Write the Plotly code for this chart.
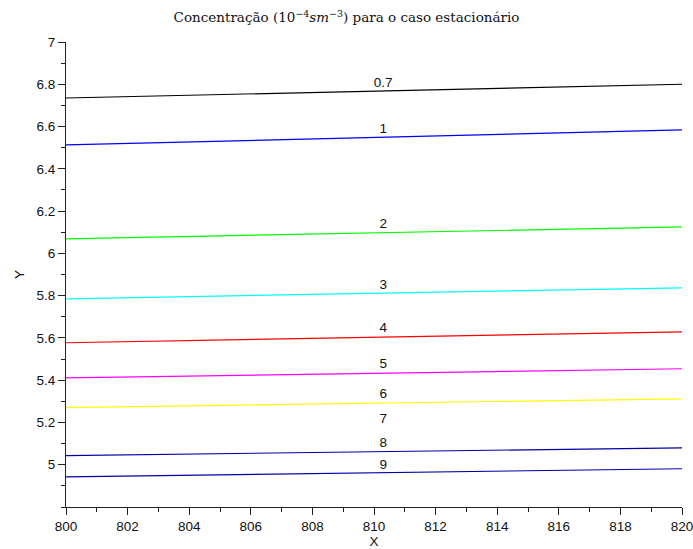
import plotly.graph_objects as go

x_ends = [800, 820]
levels = ["0.7", "1", "2", "3", "4", "5", "6", "7", "8", "9"]
y_start = [6.735, 6.513, 6.069, 5.785, 5.577, 5.411, 5.270, None, 5.043, 4.943]
y_end = [6.800, 6.584, 6.125, 5.837, 5.629, 5.454, 5.312, None, 5.080, 4.981]
colors = ["#000000", "#0000ff", "#00ff00", "#00ffff", "#ff0000", "#ff00ff",
          "#ffff00", "#ffffff", "#0000a8", "#0000a8"]
label_x = 810.3
label_y = [6.805, 6.585, 6.135, 5.847, 5.645, 5.475, 5.333, 5.215, 5.102, 4.998]
x_ticks = [800, 802, 804, 806, 808, 810, 812, 814, 816, 818, 820]
y_ticks = [5, 5.2, 5.4, 5.6, 5.8, 6, 6.2, 6.4, 6.6, 6.8, 7]
y_tick_text = ["5", "5.2", "5.4", "5.6", "5.8", "6", "6.2", "6.4", "6.6", "6.8", "7"]

fig = go.Figure()
for lv, ys, ye, c in zip(levels, y_start, y_end, colors):
    if ys is None:
        continue
    fig.add_trace(go.Scatter(x=x_ends, y=[ys, ye], mode="lines",
                             line=dict(color=c, width=1.2), showlegend=False,
                             hoverinfo="skip", cliponaxis=False))

fig.add_trace(go.Scatter(x=[label_x] * len(levels), y=label_y, mode="text",
                         text=levels, textfont=dict(family="Liberation Sans", size=13.5, color="#111111"),
                         showlegend=False, hoverinfo="skip"))

axis_common = dict(showgrid=False, zeroline=False, showline=True, linecolor="#222222",
                   linewidth=1.2, ticks="outside", ticklen=7, tickwidth=1.2,
                   tickcolor="#222222", mirror=False, automargin=False,
                   ticklabeloverflow="allow",
                   tickfont=dict(family="Liberation Sans", size=13.5, color="#111111"))

fig.update_layout(
    width=693, height=549,
    margin=dict(l=66, r=11, t=42, b=42),
    plot_bgcolor="white", paper_bgcolor="white",
    title=dict(text="Concentração (10<sup>−4</sup><i>sm</i><sup>−3</sup>) para o caso estacionário",
               x=0.5, xanchor="center", y=0.968, yanchor="middle",
               font=dict(family="DejaVu Serif", size=13.5, color="#111111")),
    xaxis=dict(range=[800, 820], tickmode="array", tickvals=x_ticks,
               ticktext=[str(v) for v in x_ticks],
               minor=dict(dtick=1, tick0=800, ticks="outside", ticklen=4, tickwidth=1.2, tickcolor="#222222"),
               title=dict(text="X", font=dict(family="Liberation Sans", size=13.5, color="#111111"), standoff=8),
               **axis_common),
    yaxis=dict(range=[4.8, 7], tickmode="array", tickvals=y_ticks, ticktext=y_tick_text,
               minor=dict(dtick=0.1, tick0=4.8, ticks="outside", ticklen=4, tickwidth=1.2, tickcolor="#222222"),
               title=dict(text="Y", font=dict(family="Liberation Sans", size=13.5, color="#111111"), standoff=8),
               **axis_common),
)

fig.write_html("out.html", config={"displayModeBar": False},
               post_script="document.body.style.margin='0';document.body.style.overflow='hidden';")
